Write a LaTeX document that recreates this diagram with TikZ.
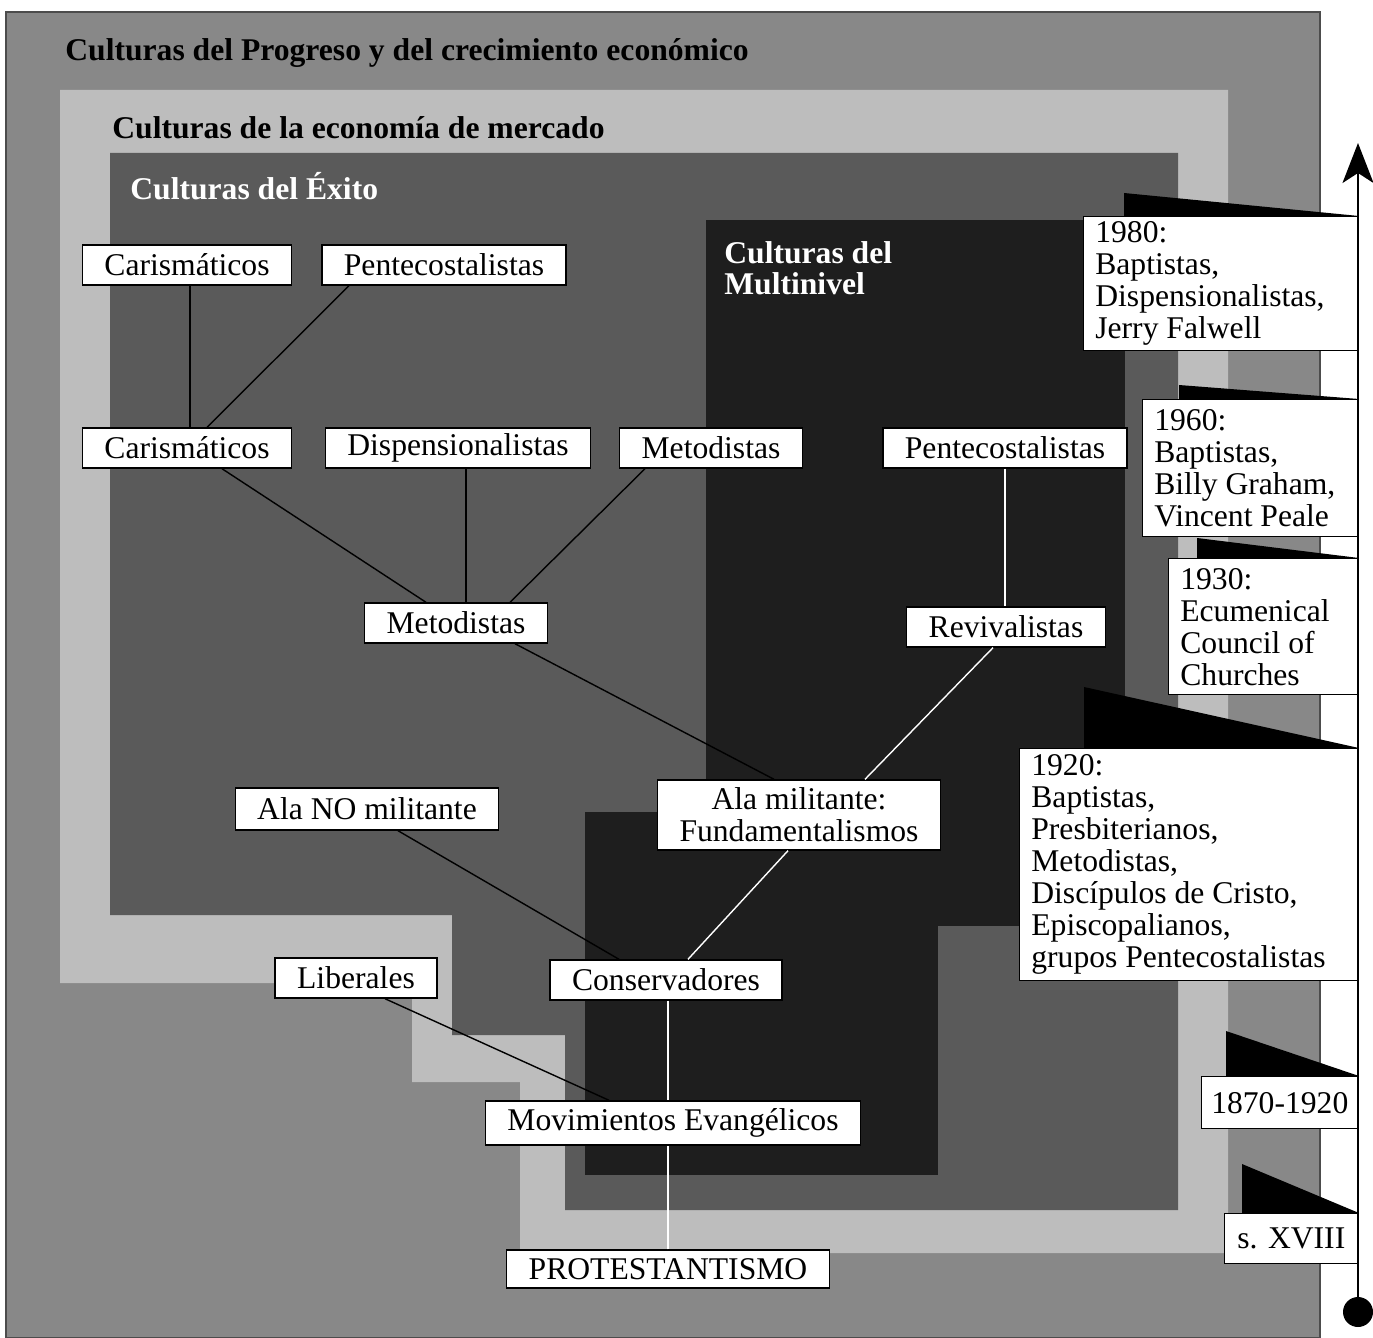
\documentclass[tikz,border=0pt]{standalone}
\usepackage{fontspec}
\setmainfont{Liberation Serif}
\usetikzlibrary{arrows.meta, calc}

\definecolor{progreso}{HTML}{888888}
\definecolor{mercado}{HTML}{BDBDBD}
\definecolor{exito}{HTML}{5A5A5A}
\definecolor{multinivel}{HTML}{1E1E1E}

\begin{document}
\begin{tikzpicture}[x=0.02cm, y=-0.02cm,
  tag/.style={draw=black, line width=0.8pt, fill=white, inner xsep=0.44cm, inner ysep=0pt, minimum height=0.8cm, align=center, font=\fontsize{18}{18.2}\selectfont},
  datebox/.style={draw=black, line width=0.8pt, fill=white, anchor=north east, align=flush left, inner xsep=0.24cm, inner ysep=0.09cm, font=\fontsize{18}{18.2}\selectfont},
  regtitle/.style={anchor=base west, inner sep=0pt, align=flush left, font=\fontsize{18}{18.2}\selectfont\bfseries},
  link/.style={line width=0.8pt, black},
  whitelink/.style={line width=0.8pt, white}]

\useasboundingbox (0,0) rectangle (1373,1338);

% nested cultures
\draw[fill=progreso, draw=black!70, line width=0.6pt] (6,12) rectangle (1320,1338);
\fill[mercado] (60,90) -- (1228,90) -- (1228,1253) -- (520,1253) -- (520,1082) -- (412,1082) -- (412,983) -- (60,983) -- cycle;
\fill[exito] (110,153) -- (1178,153) -- (1178,1210) -- (565,1210) -- (565,1035) -- (452,1035) -- (452,915) -- (110,915) -- cycle;
\fill[multinivel] (706,220) rectangle (1125,926);
\fill[multinivel] (585,812) rectangle (938,1175);

\node[regtitle] (tprogreso) at (65,61) {Culturas del Progreso y del crecimiento económico};
\node[regtitle] (tmercado) at (112,139) {Culturas de la economía de mercado};
\node[regtitle, white] (texito) at (130,200) {Culturas del Éxito};
\node[regtitle, white] (tmulti) at (724,295) {Culturas del\\Multinivel};

% movements
\node[tag] (car1) at (187,265) {Carismáticos};
\node[tag] (pen1) at (444,265) {Pentecostalistas};
\node[tag] (car2) at (187,448) {Carismáticos};
\node[tag] (disp) at (458,448) {Dispensionalistas};
\node[tag] (met1) at (711,448) {Metodistas};
\node[tag] (pen2) at (1005,448) {Pentecostalistas};
\node[tag] (met2) at (456,623) {Metodistas};
\node[tag] (rev) at (1006,627) {Revivalistas};
\node[tag, minimum height=1.4cm] (alamil) at (799,815) {Ala militante:\\Fundamentalismos};
\node[tag, minimum height=0.84cm] (alano) at (367,809) {Ala NO militante};
\node[tag] (cons) at (666,980) {Conservadores};
\node[tag] (lib) at (356,978) {Liberales};
\node[tag, minimum height=0.88cm] (mov) at (673,1123) {Movimientos Evangélicos};
\node[tag, minimum height=0.76cm] (prot) at (668,1269) {PROTESTANTISMO};

\draw[link] ([xshift=0.06cm]car1.south) -- ([xshift=0.06cm]car1.south |- car2.north);
\draw[link] ([xshift=-1.9cm]pen1.south) -- ([xshift=0.4cm]car2.north);
\draw[link] ([xshift=0.7cm]car2.south) -- ([xshift=-0.6cm]met2.north);
\draw[link] ([xshift=0.2cm]met2.north) -- ([xshift=0.2cm]met2.north |- disp.south);
\draw[link] ([xshift=-1.32cm]met1.south) -- ([xshift=1.08cm]met2.north);
\draw[link] ([xshift=1.18cm]met2.south) -- ([xshift=-0.5cm]alamil.north);
\draw[whitelink] (pen2.south) -- (pen2.south |- rev.north);
\draw[whitelink] ([xshift=-0.26cm]rev.south) -- ([xshift=1.32cm]alamil.north);
\draw[whitelink] ([xshift=-0.22cm]alamil.south) -- ([xshift=0.44cm]cons.north);
\draw[link] ([xshift=0.62cm]alano.south) -- ([xshift=-0.94cm]cons.north);
\draw[link] ([xshift=0.58cm]lib.south) -- ([xshift=-1.28cm]mov.north);
\draw[whitelink] ([xshift=0.04cm]cons.south) -- ([xshift=0.04cm]cons.south |- mov.north);
\draw[whitelink] (prot.north) -- (prot.north |- mov.south);

% time line
\node[datebox, text width=5.02cm, minimum height=2.68cm] (d1980) at (1359,216) {1980:\\Baptistas,\\Dispensionalistas,\\Jerry Falwell};
\node[datebox, text width=3.84cm, minimum height=2.74cm] (d1960) at (1359,399) {1960:\\Baptistas,\\Billy Graham,\\Vincent Peale};
\node[datebox, text width=3.32cm, minimum height=2.72cm] (d1930) at (1359,558) {1930:\\Ecumenical\\Council of\\Churches};
\node[datebox, text width=6.3cm, minimum height=4.64cm] (d1920) at (1359,748) {1920:\\Baptistas,\\Presbiterianos,\\Metodistas,\\Discípulos de Cristo,\\Episcopalianos,\\grupos Pentecostalistas};
\node[datebox, align=center, inner xsep=0pt, minimum width=3.14cm, minimum height=1.04cm] (d1870) at (1359,1076) {1870-1920};
\node[datebox, align=center, inner xsep=0pt, minimum width=2.68cm, minimum height=1.0cm] (dxviii) at (1359,1213) {s. XVIII};

\foreach \b/\dx/\dy in {d1980/235/23, d1960/180/14, d1930/162/20, d1920/275/61, d1870/133/45, dxviii/117/49}
  \fill[black] (\b.north east) -- ++(-\dx,-\dy) -- ++(0,\dy) -- cycle;

\node[circle, fill=black, inner sep=0pt, minimum size=0.6cm] (origen) at (1358,1312) {};
\coordinate (cima) at (1358,143);
\draw[line width=1.1pt, -{Stealth[length=0.8cm, width=0.62cm, inset=0.2cm]}] (origen) -- (cima);
\end{tikzpicture}
\end{document}
